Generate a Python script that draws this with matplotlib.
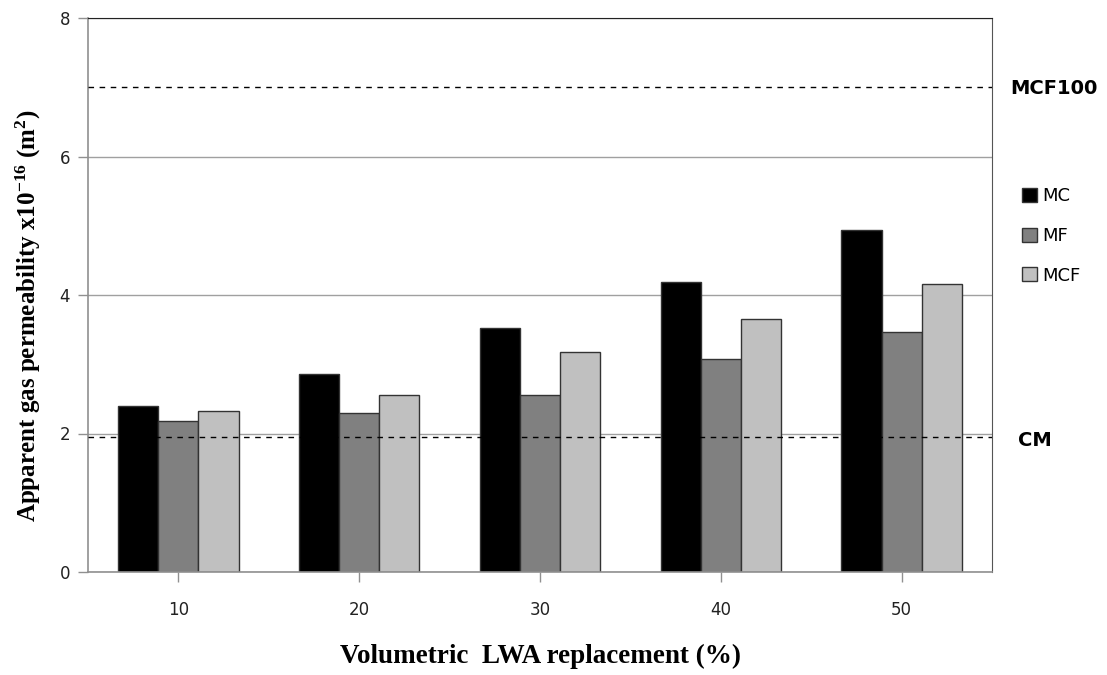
import numpy as np
import matplotlib
matplotlib.use("Agg")
import matplotlib.pyplot as plt

plt.rcParams["mathtext.fontset"] = "custom"
plt.rcParams["mathtext.rm"] = "Liberation Serif:bold"
plt.rcParams["mathtext.bf"] = "Liberation Serif:bold"
plt.rcParams["mathtext.it"] = "Liberation Serif:bold"

# Data
replacement = ["10", "20", "30", "40", "50"]
mc = [2.40, 2.86, 3.52, 4.19, 4.94]
mf = [2.18, 2.29, 2.56, 3.08, 3.47]
mcf = [2.33, 2.56, 3.17, 3.66, 4.16]
series_names = ["MC", "MF", "MCF"]
ref_mcf100 = 7.0
ref_cm = 1.95

colors = ["#000000", "#808080", "#c0c0c0"]

fig = plt.figure(figsize=(11.07, 6.75), dpi=100)
ax = fig.add_axes([88 / 1107, 1 - 572 / 675, (992 - 88) / 1107, (572 - 18) / 675])

x = np.arange(len(replacement))
width = 1 / 4.5
handles = []
for i, (vals, name, col) in enumerate(zip([mc, mf, mcf], series_names, colors)):
    h = ax.bar(x + (i - 1) * width, vals, width, color=col, edgecolor="#333333",
               linewidth=1.0, label=name, zorder=2)
    handles.append(h)

# Reference levels
ax.axhline(ref_mcf100, color="black", linestyle=(0, (4, 4)), linewidth=1.0, zorder=3)
ax.axhline(ref_cm, color="black", linestyle=(0, (4, 4)), linewidth=1.0, zorder=3)

ax.set_xlim(-0.5, len(replacement) - 0.5)
ax.set_ylim(0, 8)
ax.set_yticks([0, 2, 4, 6, 8])
ax.set_xticks(x)
ax.set_xticklabels(replacement)
ax.yaxis.grid(True, color="#a0a0a0", linewidth=1.0, zorder=0)
ax.set_axisbelow(True)

for side in ["left", "bottom"]:
    ax.spines[side].set_color("#909090")
    ax.spines[side].set_linewidth(1.2)
ax.spines["top"].set_color("#222222")
ax.spines["right"].set_color("#555555")

ax.tick_params(axis="both", direction="out", colors="#909090", labelcolor="#222222",
               labelsize=12, length=7, width=1)
ax.tick_params(axis="x", pad=14)
ax.tick_params(axis="y", pad=6)

ax.set_xlabel("Volumetric  LWA replacement (%)", fontfamily="Liberation Serif",
              fontweight="bold", fontsize=19.5, labelpad=18)
ax.set_ylabel(r"Apparent gas permeability x10$^{\mathbf{-16}}$ (m$^{\mathbf{2}}$)",
              fontfamily="Liberation Serif", fontweight="bold", fontsize=18)
ax.yaxis.set_label_coords(-0.05, 0.462)

# Labels for reference lines
fig.text(1010 / 1107, 1 - 88 / 675, "MCF100", fontweight="bold", fontsize=14,
         va="center", ha="left")
fig.text(1018 / 1107, 1 - 440 / 675, "CM", fontweight="bold", fontsize=14,
         va="center", ha="left")

leg = fig.legend(handles=handles, labels=series_names, loc="center left",
                 bbox_to_anchor=(1006 / 1107, 1 - 236 / 675), frameon=False,
                 fontsize=13, handlelength=0.8, handleheight=0.8, handletextpad=0.3,
                 labelspacing=1.2)

fig.savefig("out.png", dpi=100)
